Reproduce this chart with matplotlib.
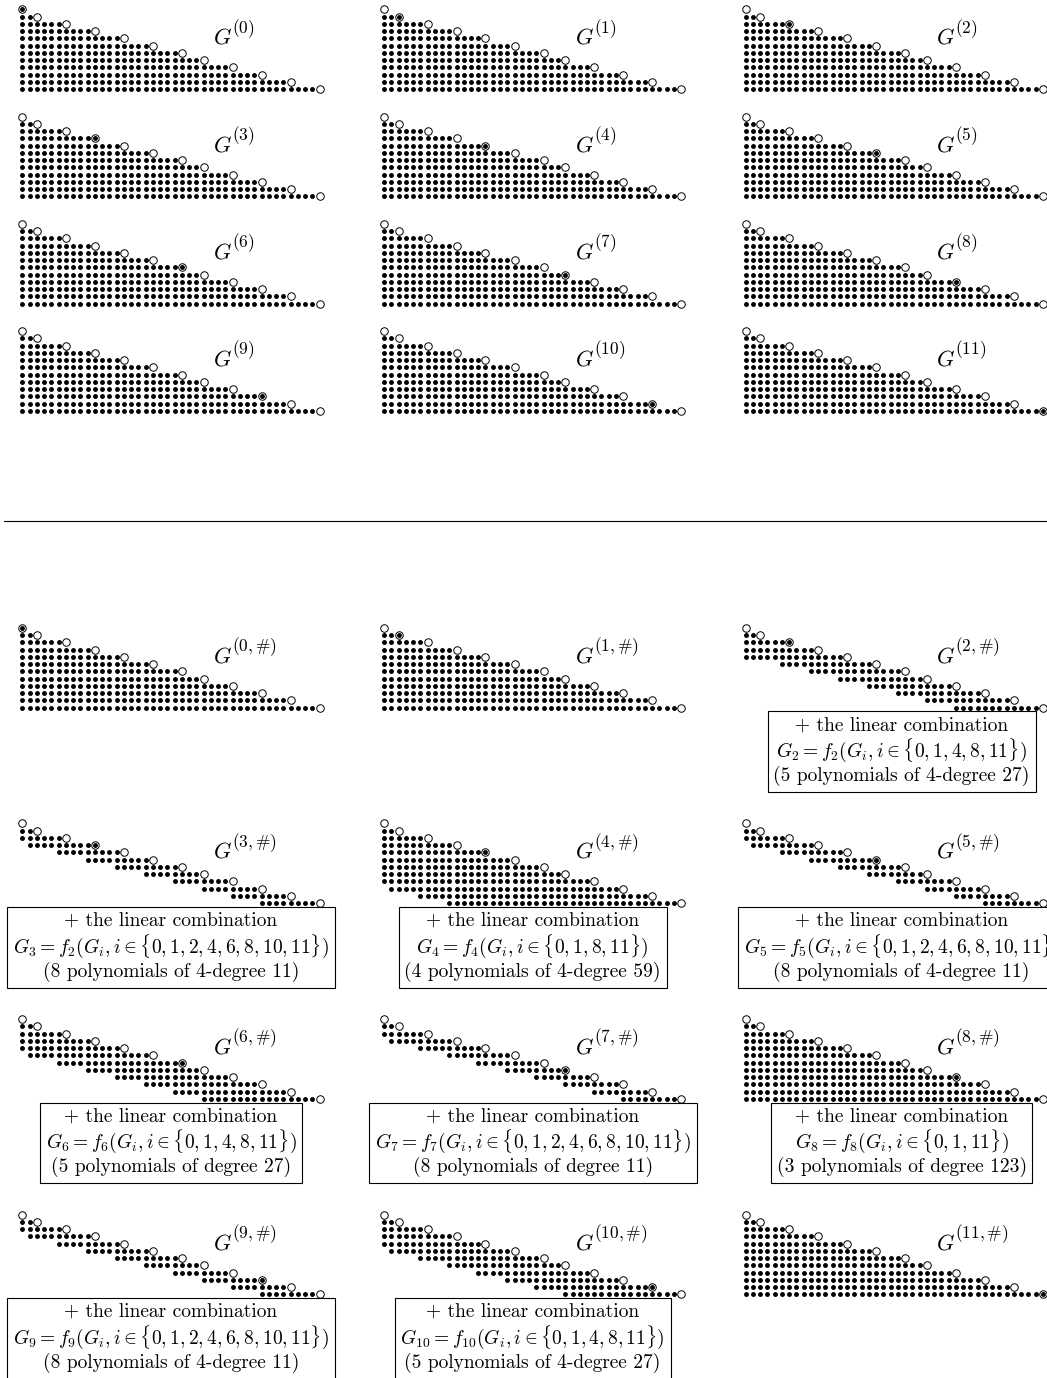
import matplotlib
matplotlib.use('Agg')
import matplotlib.pyplot as plt
from matplotlib.lines import Line2D

plt.rcParams['mathtext.fontset'] = 'cm'
plt.rcParams['font.family'] = ['cmr10', 'DejaVu Serif']
plt.rcParams['axes.unicode_minus'] = False

# column of the leading (circled) term in each of the 12 rows
lead_cols = [0, 2, 6, 10, 14, 18, 22, 25, 29, 33, 37, 41]

# first kept column of each row in the truncated systems G^(i,#)
start_full = [0, 0, 0, 0, 0, 0, 0, 0, 0, 0, 0, 0]
start_d11 = [0, 0, 0, 1, 5, 9, 13, 17, 21, 25, 29, 33]
start_d27 = [0, 0, 0, 0, 0, 1, 5, 9, 13, 17, 21, 25]
start_d27b = [0, 0, 0, 0, 0, 5, 9, 13, 17, 21, 25, 29]
start_d59 = [0, 0, 0, 0, 0, 0, 0, 0, 0, 1, 5, 9]
hash_starts = [start_full, start_full, start_d27b, start_d11, start_d59, start_d11,
               start_d27, start_d11, start_full, start_d11, start_d27, start_full]

# linear combinations written under the truncated systems
combo_index = [2, 3, 4, 5, 6, 7, 8, 9, 10]
combo_func = ['2', '2', '4', '5', '6', '7', '8', '9', '10']
combo_sets = ['0,1,4,8,11', '0,1,2,4,6,8,10,11', '0,1,8,11', '0,1,2,4,6,8,10,11',
              '0,1,4,8,11', '0,1,2,4,6,8,10,11', '0,1,11', '0,1,2,4,6,8,10,11',
              '0,1,4,8,11']
combo_count = [5, 8, 4, 8, 5, 8, 3, 8, 5]
combo_kind = ['4-degree', '4-degree', '4-degree', '4-degree', 'degree', 'degree',
              'degree', '4-degree', '4-degree']
combo_deg = [27, 11, 59, 11, 27, 11, 123, 11, 27]

# page geometry in pixels
W, H = 1047, 1378
U = 7.25
col_x0 = [22.3, 384.0, 745.7]
box_cx = [20.5, 20.5, 21.5]
top_row0 = [9.4, 116.6, 223.8, 331.0]
bot_row0 = [627.8, 823.4, 1019.0, 1214.6]
rule_y = 521

fig = plt.figure(figsize=(W / 100, H / 100), dpi=100)


def panel_axes(x0, y0):
    ax = fig.add_axes([(x0 - 3 * U) / W, 1 - (y0 + 13 * U) / H, 48 * U / W, 15 * U / H])
    ax.set_xlim(-3, 45)
    ax.set_ylim(13, -2)
    ax.axis('off')
    return ax


def draw_staircase(ax, k, starts, sup):
    for r, c in enumerate(lead_cols):
        cols = list(range(starts[r], c))
        ax.plot(cols, [r] * len(cols), 'o', ms=2.5, color='black', ls='none', clip_on=False)
    ax.plot(lead_cols, range(len(lead_cols)), 'o', ms=5.4, mfc='white', mec='black',
            mew=0.7, ls='none', clip_on=False)
    ax.plot([lead_cols[k]], [k], 'o', ms=2.5, color='black', clip_on=False)
    # label G^(...) with a larger exponent than mathtext gives
    ax.text(26.3, 4.75, r'$G$', fontsize=16, va='baseline')
    ax.text(28.9, 3.25, sup, fontsize=12.5, va='baseline')


for k in range(12):
    row, col = divmod(k, 3)
    ax = panel_axes(col_x0[col], top_row0[row])
    draw_staircase(ax, k, start_full, r'$(%d)$' % k)

    ax = panel_axes(col_x0[col], bot_row0[row])
    draw_staircase(ax, k, hash_starts[k], r'$(%d,\#)$' % k)
    if k in combo_index:
        j = combo_index.index(k)
        lines = ['+ the linear combination',
                 r'$G_{%d} = f_{%s}(G_i, i \in \{%s\})$' % (k, combo_func[j], combo_sets[j]),
                 '(%d polynomials of %s %d)' % (combo_count[j], combo_kind[j], combo_deg[j])]
        ax.text(box_cx[col], 12.2, '\n'.join(lines), ha='center', va='top', fontsize=14,
                multialignment='center', linespacing=1.12, clip_on=False,
                bbox=dict(boxstyle='square,pad=0.3', fc='white', ec='black', lw=0.8))

fig.add_artist(Line2D([0.004, 1.0], [1 - rule_y / H, 1 - rule_y / H], color='black',
                      lw=0.8, transform=fig.transFigure))

fig.savefig('out.png', dpi=100)
